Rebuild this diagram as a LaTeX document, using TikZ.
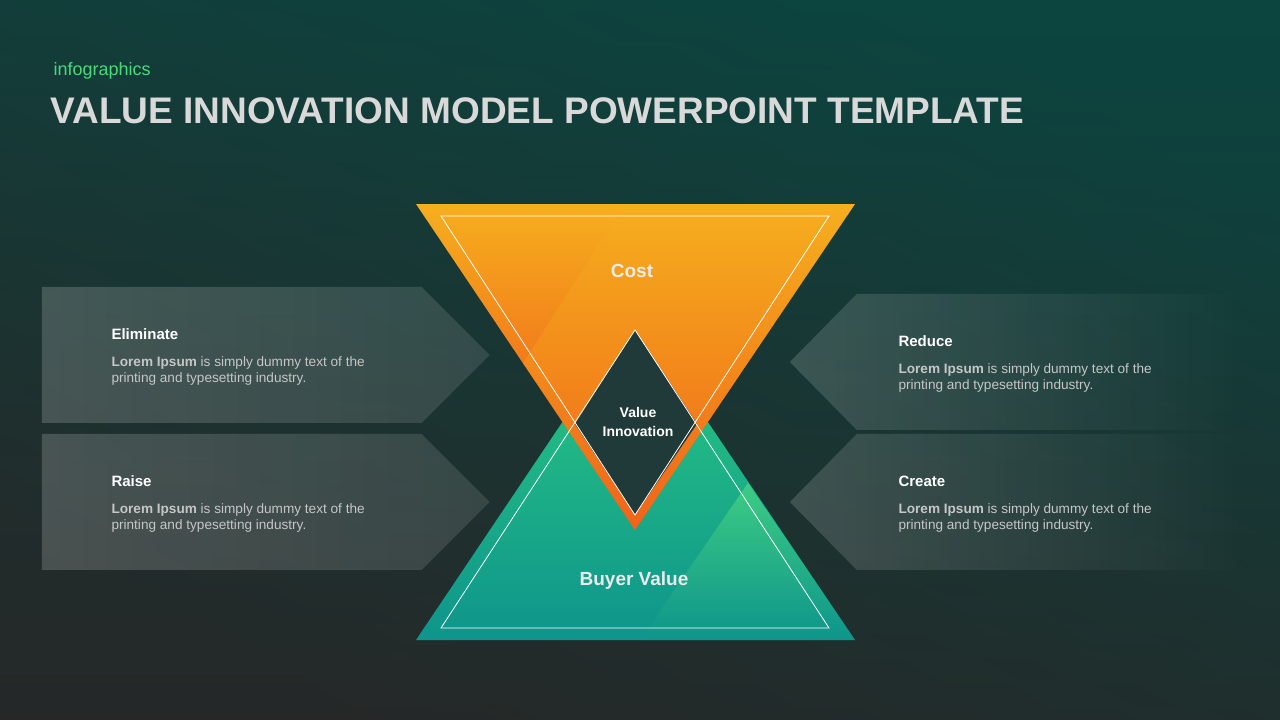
\documentclass[tikz,border=0pt]{standalone}
\usepackage{fontspec}
\setmainfont{Liberation Sans}
\usetikzlibrary{fadings}
\tikzfading[name=fl, left color=transparent!60, right color=transparent!75]
\tikzfading[name=fr, right color=transparent!100, left color=transparent!65]
\begin{document}
\begin{tikzpicture}[x=1pt,y=-1pt,
  bannerL/.style={fill=white,path fading=fl,fill opacity=0.45,draw=none},
  bannerR/.style={fill=white,path fading=fr,fill opacity=0.45,draw=none},
  head/.style={anchor=west,font=\fontsize{15}{18}\selectfont\bfseries,text=white},
  body/.style={anchor=north west,align=left,font=\fontsize{13.6}{16}\selectfont,text=gray!45!white},
  outl/.style={draw=white,line width=0.8pt}]
\definecolor{bgA}{HTML}{0C4540}\definecolor{bgB}{HTML}{262828}
\definecolor{orA}{HTML}{F6AF1E}\definecolor{orB}{HTML}{EE4418}
\definecolor{grA}{HTML}{2CCB80}\definecolor{grB}{HTML}{0E958C}
\definecolor{dia}{HTML}{1F3A38}
\useasboundingbox (0,0) rectangle (1280,720);
\shade[left color=bgA,right color=bgB,shading angle=-30] (0,0) rectangle (1280,720);
\shade[top color=bgA,bottom color=bgB,opacity=0.5] (0,0) rectangle (1280,720);
% banners
\path[bannerL] (42,287) -- (422,287) -- (490,355) -- (422,423) -- (42,423) -- cycle;
\path[bannerL] (42,434) -- (422,434) -- (490,502) -- (422,570) -- (42,570) -- cycle;
\path[bannerR] (1250,294) -- (857,294) -- (790,362) -- (857,430) -- (1250,430) -- cycle;
\path[bannerR] (1250,434) -- (857,434) -- (790,502) -- (857,570) -- (1250,570) -- cycle;
% triangles
\shade[top color=grA,bottom color=grB] (635,314) -- (855,640) -- (416,640) -- cycle;
\shade[top color=grA!60!green!70!white,bottom color=grB,opacity=0.5] (748,483) -- (855,640) -- (640,640) -- cycle;
\shade[top color=orA,bottom color=orB] (416,204) -- (855,204) -- (635,530) -- cycle;
\fill[orA,opacity=0.3] (625,204) -- (855,204) -- (635,530) -- (523,363) -- cycle;
\fill[dia] (635,330) -- (697,424) -- (635,515) -- (575,424) -- cycle;
\draw[outl] (441,216) -- (829,216) -- (635,515) -- cycle;
\draw[outl] (441,628) -- (829,628) -- (635,330) -- cycle;
% texts
\node (cost) at (632,271) {\fontsize{19}{22}\selectfont\bfseries\color{white!92!black}Cost};
\node (bv) at (634,581) {\fontsize{19}{22}\selectfont\bfseries\color{white!92!black}Buyer Value};
\node[align=center,font=\fontsize{14}{19}\selectfont\bfseries,text=white] (vi) at (638,422) {Value\\Innovation};
\node[anchor=west,text={rgb,255:red,70;green,220;blue,120},font=\fontsize{18}{20}\selectfont] (inf) at (50,71) {infographics};
\node[anchor=west,text=white!85!black,font=\fontsize{37}{40}\selectfont\bfseries] (title) at (47,111) {VALUE INNOVATION MODEL POWERPOINT TEMPLATE};
\node[head] (h1) at (108,334) {Eliminate};
\node[body] (b1) at (108,353) {\textbf{Lorem Ipsum} is simply dummy text of the\\printing and typesetting industry.};
\node[head] (h2) at (108,481) {Raise};
\node[body] (b2) at (108,500) {\textbf{Lorem Ipsum} is simply dummy text of the\\printing and typesetting industry.};
\node[head] (h3) at (895,341) {Reduce};
\node[body] (b3) at (895,360) {\textbf{Lorem Ipsum} is simply dummy text of the\\printing and typesetting industry.};
\node[head] (h4) at (895,481) {Create};
\node[body] (b4) at (895,500) {\textbf{Lorem Ipsum} is simply dummy text of the\\printing and typesetting industry.};
\end{tikzpicture}
\end{document}
